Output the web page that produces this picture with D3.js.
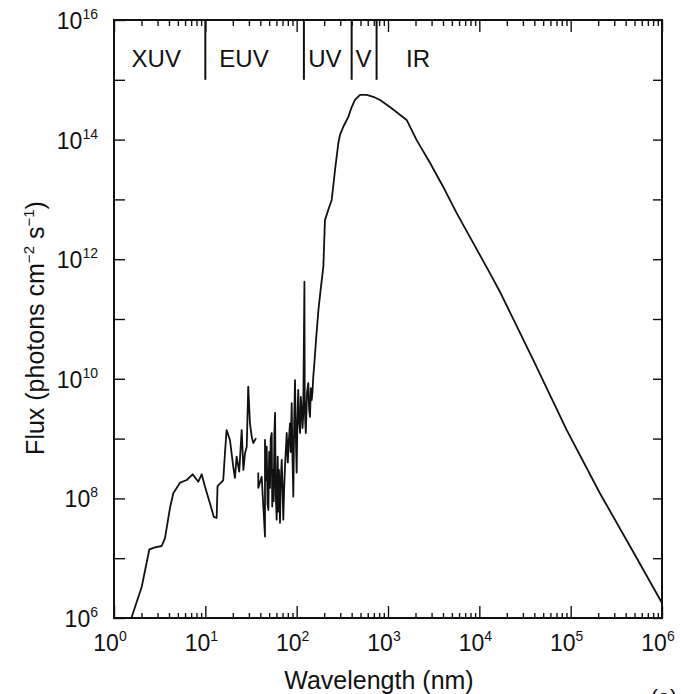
<!DOCTYPE html>
<html>
<head>
<meta charset="utf-8">
<script src="https://cdn.jsdelivr.net/npm/d3@7"></script>
<style>
  body { margin: 0; background: #fff; }
  text { font-family: "Liberation Sans", Arial, sans-serif; fill: #111; }
</style>
</head>
<body>
<script>
// wavelength in nm, flux in photons cm^-2 s^-1 (null = gap in the record)
const wavelength = [1.55, 2.01, 2.44, 2.81, 3.33, 3.62, 4.10, 4.46, 5.28, 6.25, 7.27, 8.38, 9.12, 9.92, 11.2, 12.4, 13.3, 13.6, 15.7, 16.4,
  17.1, 18.6, 20.2, 21.1, 22.0, 23.5, 25.0, 26.1, 27.2, 28.4, 29.5, 30.8, 32.2, 33.5, 35.9, 37, 38.0, 38.0, 41.4, 45,
  45, 46, 47, 48, 49, 50, 51, 52, 53.3, 54, 55, 56, 57, 58, 59, 60.4, 62, 63, 64, 65.7,
  67, 68.6, 70, 71.4, 73, 74.5, 76, 77.8, 80, 82, 84.5, 86, 88.2, 90, 91.9, 94, 95.9, 98, 100, 102,
  104, 106, 109, 111, 113, 116, 118, 121.6, 122.5, 124, 126, 130, 134, 137, 140, 143, 146, 149, 152, 157,
  163, 173, 183, 196, 204, 222, 242, 263, 286, 298, 324, 368, 400, 435, 494, 585, 690, 818, 1050, 1350,
  1600, 2060, 2880, 4040, 5650, 8590, 13700, 16800, 39000, 90600, 209000, 485000, 1e6]
const flux = [1.0e6, 3.3e6, 1.41e7, 1.52e7, 1.6e7, 2.18e7, 6.9e7, 1.22e8, 1.83e8, 2.03e8, 2.53e8, 1.9e8, 2.53e8, 1.57e8, 8.4e7, 4.9e7, 4.7e7, 1.6e8, 2.0e8, 5.7e8,
  1.39e9, 9.5e8, 3.4e8, 2.2e8, 5.0e8, 2.8e8, 1.39e9, 3.0e8, 5.7e8, 7.3e8, 7.4e9, 1.8e9, 1.08e9, 8.4e8, 1.02e9, null, 2.7e8, 1.5e8, 2.3e8, 2.3e7,
  9.5e8, 2.0e8, 7.3e8, 8.0e7, 6.4e7, 6.0e8, 1.5e8, 1.0e9, 1.24e9, 7.3e7, 3.0e8, 9.0e7, 1.2e9, 2.7e9, 1.2e8, 4.4e7, 5.0e8, 6.0e7, 3.0e8, 3.9e7,
  2.0e8, 4.4e8, 1.5e8, 4.4e7, 1.5e8, 3.4e8, 6.0e8, 1.24e9, 4.0e8, 9.0e8, 1.8e9, 6.0e8, 3.9e9, 5.0e8, 1.07e8, 2.0e9, 9.5e9, 1.0e9, 2.7e8, 2.0e9,
  6.5e9, 2.0e9, 1.24e9, 5.0e9, 3.4e9, 1.5e9, 2.5e9, 4.2e11, 5.8e9, 2.0e9, 1.24e9, 6.0e9, 8.5e9, 3.0e9, 2.3e9, 7.0e9, 4.4e9, 6.0e9, 1.08e10, 2.0e10,
  4.5e10, 1.4e11, 3.1e11, 7.5e11, 4.5e12, 6.7e12, 9.8e12, 3.1e13, 8.7e13, 1.2e14, 1.64e14, 2.4e14, 3.5e14, 4.6e14, 5.6e14, 5.6e14, 5.2e14, 4.6e14, 3.5e14, 2.6e14,
  2.13e14, 9.8e13, 4.1e13, 1.6e13, 5.9e12, 1.86e12, 5.1e11, 2.86e11, 2.06e10, 1.39e9, 1.22e8, 1.27e7, 1.78e6]

const bands = ['XUV', 'EUV', 'UV', 'V', 'IR']
const bandEdges = [10, 120, 400, 750]          // nm, divider lines
const bandLabelAt = [2.9, 26.5, 204, 540, 2130] // nm, label centres
const xTickExp = [0, 1, 2, 3, 4, 5, 6]
const yTickExp = [6, 8, 10, 12, 14, 16]

const WIDTH = 681, HEIGHT = 694
const L = 114, R = 662, T = 20, B = 618

const svg = d3.select('body').append('svg').attr('width', WIDTH).attr('height', HEIGHT)

const x = d3.scaleLog().domain([1, 1e6]).range([L, R])
const y = d3.scaleLog().domain([1e6, 1e16]).range([B, T])

const decadesX = xTickExp.map(e => Math.pow(10, e))
const minorX = x.ticks().filter(v => !decadesX.includes(v))
const decadesY = d3.range(6, 17).map(e => Math.pow(10, e))

function clean(g) {
  g.select('.domain').remove()
  g.selectAll('line').attr('stroke', '#111').attr('stroke-width', 1.4)
}

// x ticks, pointing inwards, bottom and top
svg.append('g').attr('transform', `translate(0,${B})`)
  .call(d3.axisBottom(x).tickValues(minorX).tickSize(-5).tickFormat('')).call(clean)
svg.append('g').attr('transform', `translate(0,${B})`)
  .call(d3.axisBottom(x).tickValues(decadesX).tickSize(-12).tickFormat('')).call(clean)
svg.append('g').attr('transform', `translate(0,${T})`)
  .call(d3.axisTop(x).tickValues(minorX).tickSize(-6).tickFormat('')).call(clean)
svg.append('g').attr('transform', `translate(0,${T})`)
  .call(d3.axisTop(x).tickValues(decadesX).tickSize(-12).tickFormat('')).call(clean)

// y ticks every decade
svg.append('g').attr('transform', `translate(${L},0)`)
  .call(d3.axisLeft(y).tickValues(decadesY).tickSize(-11).tickFormat('')).call(clean)
svg.append('g').attr('transform', `translate(${R},0)`)
  .call(d3.axisRight(y).tickValues(decadesY).tickSize(-9).tickFormat('')).call(clean)

// frame
svg.append('rect').attr('x', L).attr('y', T).attr('width', R - L).attr('height', B - T)
  .attr('fill', 'none').attr('stroke', '#111').attr('stroke-width', 2)

// tick labels with superscript exponents
const xl = svg.append('g').selectAll('text').data(xTickExp).enter().append('text')
  .attr('x', d => x(Math.pow(10, d)) - 4).attr('y', 651)
  .attr('text-anchor', 'middle').style('font-size', '23px')
xl.append('tspan').text('10')
xl.append('tspan').attr('dy', -10).style('font-size', '14px').text(d => d)

const yl = svg.append('g').selectAll('text').data(yTickExp).enter().append('text')
  .attr('x', 98).attr('y', d => y(Math.pow(10, d)) + 9)
  .attr('text-anchor', 'end').style('font-size', '23px')
yl.append('tspan').text('10')
yl.append('tspan').attr('dy', -10).style('font-size', '14px').text(d => d)

// band dividers and labels
svg.append('g').selectAll('line').data(bandEdges).enter().append('line')
  .attr('x1', d => x(d)).attr('x2', d => x(d))
  .attr('y1', y(1e16)).attr('y2', y(1e15))
  .attr('stroke', '#111').attr('stroke-width', 2)
svg.append('g').selectAll('text').data(bands).enter().append('text')
  .attr('x', (d, i) => x(bandLabelAt[i])).attr('y', 67)
  .attr('text-anchor', 'middle').style('font-size', '24px')
  .text(d => d)

// spectrum
const pts = wavelength.map((w, i) => [w, flux[i]])
const line = d3.line().defined(d => d[1] != null).x(d => x(d[0])).y(d => y(d[1]))
svg.append('path').datum(pts).attr('d', line)
  .attr('fill', 'none').attr('stroke', '#111').attr('stroke-width', 1.8)
  .attr('stroke-linejoin', 'round')

// axis titles
svg.append('text').attr('x', 379).attr('y', 689).attr('text-anchor', 'middle')
  .style('font-size', '25px').text('Wavelength (nm)')

const yt = svg.append('text').attr('transform', 'translate(44,328) rotate(-90)')
  .attr('text-anchor', 'middle').style('font-size', '25px')
yt.append('tspan').text('Flux (photons cm')
yt.append('tspan').attr('dy', -10).style('font-size', '15px').text('−2')
yt.append('tspan').attr('dy', 10).text(' s')
yt.append('tspan').attr('dy', -10).style('font-size', '15px').text('−1')
yt.append('tspan').attr('dy', 10).text(')')

svg.append('text').attr('x', 664).attr('y', 705).attr('text-anchor', 'middle')
  .style('font-size', '22px').text('(a)')
</script>
</body>
</html>
